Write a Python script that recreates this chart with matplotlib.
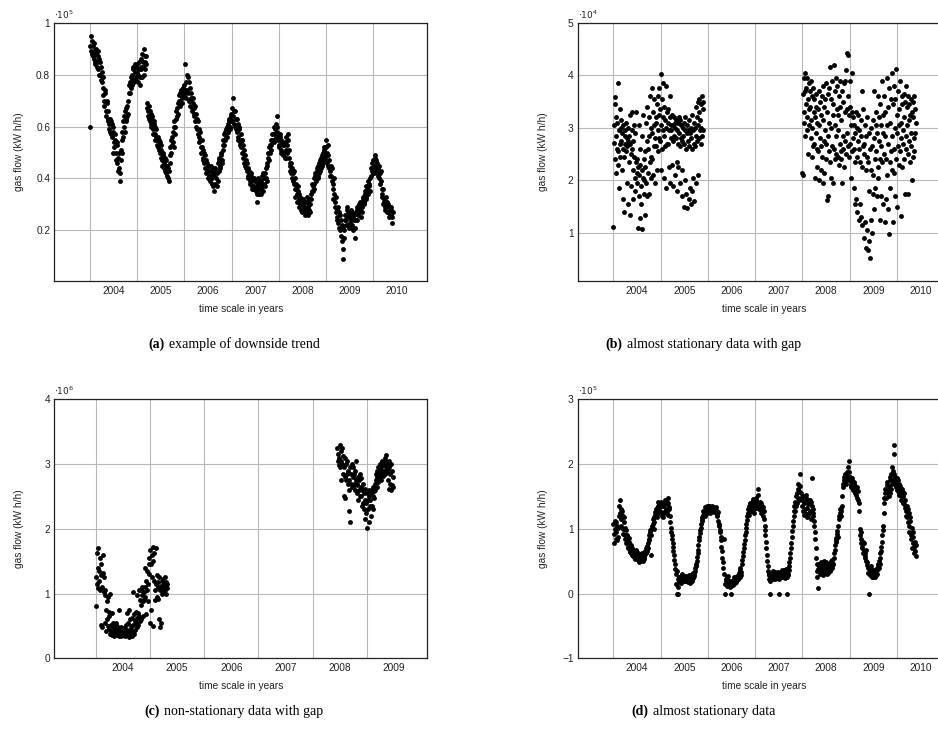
import matplotlib.pyplot as plt
from matplotlib.offsetbox import TextArea, HPacker, AnchoredOffsetbox
import numpy as np
import pandas as pd

plt.rcParams['font.family'] = 'Liberation Sans'

# (a) weekly gas flow, readings on Thursdays from 2004-01-01, in 1e5 kWh/h
flow_a = [
    # 2004
    0.60, 0.95, 0.88, 0.91, 0.86, 0.89, 0.84, 0.90, 0.83, 0.87, 0.80, 0.85, 0.78,
    0.81, 0.75, 0.72, 0.68, 0.74, 0.64, 0.69, 0.62, 0.59, 0.63, 0.57, 0.61, 0.50,
    0.58, 0.52, 0.55, 0.47, 0.53, 0.43, 0.50, 0.39, 0.47, 0.55, 0.58, 0.62, 0.60,
    0.66, 0.63, 0.68, 0.65, 0.73, 0.77, 0.75, 0.80, 0.76, 0.82, 0.78, 0.84, 0.79,
    # 2005
    0.81, 0.77, 0.85, 0.79, 0.86, 0.82, 0.88, 0.83, 0.90, 0.85, 0.87, 0.67, 0.64,
    0.68, 0.62, 0.65, 0.60, 0.64, 0.57, 0.62, 0.55, 0.59, 0.53, 0.56, 0.51, 0.54,
    0.48, 0.51, 0.45, 0.49, 0.46, 0.43, 0.47, 0.41, 0.44, 0.39, 0.46, 0.52, 0.50,
    0.56, 0.54, 0.60, 0.57, 0.63, 0.67, 0.65, 0.70, 0.73, 0.68, 0.74, 0.71, 0.75,
    # 2006
    0.72, 0.84, 0.77, 0.74, 0.79, 0.70, 0.75, 0.68, 0.71, 0.66, 0.69, 0.64, 0.68,
    0.60, 0.63, 0.57, 0.59, 0.54, 0.55, 0.50, 0.52, 0.47, 0.50, 0.44, 0.47, 0.43,
    0.45, 0.41, 0.43, 0.39, 0.45, 0.38, 0.42, 0.35, 0.44, 0.40, 0.37, 0.46, 0.43,
    0.48, 0.45, 0.50, 0.46, 0.53, 0.57, 0.55, 0.59, 0.56, 0.61, 0.58, 0.63, 0.60,
    # 2007
    0.65, 0.62, 0.71, 0.66, 0.60, 0.63, 0.58, 0.61, 0.55, 0.59, 0.53, 0.52, 0.55,
    0.48, 0.51, 0.45, 0.47, 0.43, 0.44, 0.40, 0.42, 0.38, 0.41, 0.36, 0.40, 0.37,
    0.39, 0.35, 0.37, 0.31, 0.40, 0.34, 0.38, 0.36, 0.41, 0.35, 0.40, 0.37, 0.44,
    0.39, 0.46, 0.50, 0.47, 0.53, 0.51, 0.55, 0.57, 0.54, 0.59, 0.56, 0.64, 0.60,
    # 2008
    0.55, 0.52, 0.57, 0.50, 0.54, 0.49, 0.53, 0.48, 0.51, 0.56, 0.50, 0.57, 0.48,
    0.46, 0.42, 0.44, 0.39, 0.43, 0.36, 0.33, 0.38, 0.31, 0.35, 0.29, 0.33, 0.30,
    0.27, 0.32, 0.29, 0.26, 0.31, 0.28, 0.33, 0.26, 0.30, 0.27, 0.32, 0.35, 0.37,
    0.40, 0.36, 0.42, 0.39, 0.44, 0.41, 0.46, 0.43, 0.48, 0.45, 0.50, 0.47, 0.52,
    # 2009
    0.48, 0.55, 0.46, 0.49, 0.44, 0.41, 0.45, 0.39, 0.36, 0.32, 0.34, 0.29, 0.27,
    0.24, 0.29, 0.21, 0.26, 0.18, 0.22, 0.13, 0.09, 0.20, 0.26, 0.24, 0.28, 0.22,
    0.26, 0.23, 0.28, 0.22, 0.25, 0.20, 0.26, 0.17, 0.24, 0.28, 0.26, 0.30, 0.28,
    0.25, 0.31, 0.29, 0.33, 0.31, 0.35, 0.33, 0.36, 0.34, 0.38, 0.35, 0.41, 0.43,
    # 2010
    0.44, 0.47, 0.42, 0.49, 0.44, 0.46, 0.41, 0.45, 0.38, 0.43, 0.36, 0.33, 0.30,
    0.31, 0.28, 0.33, 0.27, 0.30, 0.25, 0.29, 0.26, 0.28, 0.23,
]
# (a) second weekly reading, Sundays from 2004-01-04
flow_a_sun = [
    # 2004
    0.91, 0.89, 0.93, 0.87, 0.92, 0.85, 0.88, 0.85, 0.89, 0.82, 0.86, 0.80, 0.83,
    0.77, 0.79, 0.70, 0.73, 0.66, 0.70, 0.63, 0.66, 0.61, 0.58, 0.62, 0.56, 0.60,
    0.54, 0.57, 0.50, 0.54, 0.46, 0.48, 0.44, 0.42, 0.51, 0.50, 0.56, 0.64, 0.58,
    0.62, 0.67, 0.64, 0.70, 0.76, 0.73, 0.79, 0.78, 0.83, 0.77, 0.81, 0.78, 0.83,
    # 2005
    0.84, 0.80, 0.82, 0.76, 0.83, 0.79, 0.85, 0.80, 0.87, 0.82, 0.84, 0.69, 0.66,
    0.63, 0.66, 0.61, 0.63, 0.59, 0.61, 0.57, 0.60, 0.56, 0.55, 0.52, 0.55, 0.50,
    0.53, 0.47, 0.50, 0.44, 0.48, 0.45, 0.42, 0.45, 0.40, 0.43, 0.49, 0.55, 0.53,
    0.58, 0.52, 0.62, 0.60, 0.66, 0.64, 0.69, 0.72, 0.70, 0.72, 0.69, 0.75, 0.73,
    # 2006
    0.76, 0.74, 0.71, 0.80, 0.73, 0.77, 0.70, 0.73, 0.67, 0.71, 0.65, 0.67, 0.62,
    0.65, 0.59, 0.62, 0.56, 0.58, 0.52, 0.55, 0.48, 0.51, 0.46, 0.49, 0.42, 0.46,
    0.40, 0.45, 0.41, 0.43, 0.40, 0.44, 0.37, 0.41, 0.38, 0.43, 0.42, 0.39, 0.47,
    0.44, 0.49, 0.47, 0.51, 0.55, 0.53, 0.58, 0.56, 0.60, 0.58, 0.62, 0.59, 0.64,
    # 2007
    0.62, 0.67, 0.64, 0.61, 0.66, 0.59, 0.63, 0.56, 0.60, 0.54, 0.57, 0.55, 0.50,
    0.53, 0.46, 0.49, 0.44, 0.46, 0.41, 0.43, 0.39, 0.42, 0.37, 0.39, 0.36, 0.40,
    0.36, 0.39, 0.34, 0.38, 0.36, 0.39, 0.34, 0.39, 0.37, 0.42, 0.38, 0.42, 0.40,
    0.45, 0.48, 0.52, 0.50, 0.55, 0.53, 0.57, 0.55, 0.60, 0.57, 0.61, 0.58, 0.56,
    # 2008
    0.53, 0.56, 0.51, 0.55, 0.50, 0.53, 0.50, 0.54, 0.48, 0.53, 0.55, 0.51, 0.45,
    0.43, 0.46, 0.40, 0.42, 0.38, 0.40, 0.36, 0.34, 0.37, 0.32, 0.34, 0.30, 0.28,
    0.31, 0.28, 0.31, 0.29, 0.27, 0.31, 0.29, 0.32, 0.28, 0.30, 0.34, 0.38, 0.35,
    0.38, 0.41, 0.40, 0.43, 0.40, 0.45, 0.42, 0.47, 0.44, 0.49, 0.46, 0.51, 0.49,
    # 2009
    0.52, 0.50, 0.53, 0.45, 0.47, 0.43, 0.41, 0.44, 0.38, 0.40, 0.31, 0.33, 0.25,
    0.28, 0.23, 0.27, 0.20, 0.24, 0.16, 0.21, 0.17, 0.24, 0.22, 0.29, 0.25, 0.27,
    0.21, 0.25, 0.24, 0.27, 0.21, 0.24, 0.21, 0.27, 0.29, 0.24, 0.29, 0.27, 0.31,
    0.29, 0.27, 0.32, 0.30, 0.34, 0.32, 0.37, 0.35, 0.39, 0.37, 0.40, 0.44, 0.46,
    # 2010
    0.42, 0.45, 0.48, 0.43, 0.47, 0.42, 0.44, 0.40, 0.42, 0.39, 0.34, 0.36, 0.32,
    0.29, 0.31, 0.29, 0.31, 0.27, 0.29, 0.26, 0.29, 0.25, 0.27,
]

# (b) gas flow every third day, two recording periods, in 1e4 kWh/h
flow_b_2004 = [
    1.12, 3.05, 2.72, 3.45, 2.40, 3.58, 2.85, 2.15, 3.20, 2.60,
    3.10, 2.55, 3.85, 2.30, 2.95, 1.85, 3.35, 2.70, 2.45, 3.00,
    2.75, 3.15, 2.20, 2.90, 1.65, 2.60, 3.05, 2.45, 1.40, 2.85,
    2.70, 2.95, 2.55, 3.10, 1.95, 2.80, 2.65, 1.55, 2.75, 3.00,
    2.85, 2.35, 3.25, 1.35, 2.70, 2.50, 1.90, 2.95, 2.60, 3.30,
    2.20, 2.75, 1.65, 2.45, 3.05, 2.05, 2.90, 1.80, 2.35, 3.30,
    2.15, 1.95, 2.40, 1.10, 2.25, 3.05, 1.70, 2.10, 2.60, 1.28,
    2.30, 1.90, 1.55, 2.20, 2.85, 1.08, 2.05, 3.25, 1.75, 2.40,
    2.00, 2.55, 1.35, 2.25, 3.10, 1.95, 2.75, 1.70, 3.40, 2.15,
    2.60, 3.20, 1.75, 2.85, 2.35, 3.60, 2.05, 3.00, 2.45, 3.75,
    2.90, 2.40, 3.30, 2.10, 3.05, 2.65, 3.55, 1.95, 2.80, 3.20,
    3.10, 2.65, 3.45, 2.20, 2.95, 3.60, 2.55, 3.25, 2.80, 3.75,
    3.35, 2.75, 4.02, 2.20, 3.05, 3.55, 2.60, 3.85, 2.95, 3.20,
    2.85, 3.40, 2.05, 3.15, 2.65, 3.80, 1.85, 3.00, 3.30, 2.70,
    3.10, 2.70, 3.35, 2.25, 2.95, 3.60, 1.95, 3.20, 2.80, 3.05,
    2.95, 3.25, 2.30, 3.05, 2.75, 1.90, 3.20, 2.85, 3.10, 2.10,
    3.00, 2.80, 3.15, 2.35, 2.95, 1.80, 3.10, 2.70, 2.25, 3.20,
    2.90, 2.65, 3.15, 1.95, 2.80, 3.05, 2.20, 2.75, 1.70, 3.00,
    2.85, 3.10, 1.50, 2.70, 2.95, 2.00, 3.20, 2.60, 1.75, 2.90,
    3.05, 1.48, 2.75, 2.95, 1.65, 3.15, 2.65, 1.85, 2.90, 3.00,
    2.80, 1.55, 3.25, 2.60, 1.80, 2.95, 2.05, 3.10, 1.60, 2.70,
    3.00, 2.65, 3.40, 1.95, 2.85, 3.20, 2.75, 3.50, 2.10, 3.05,
    3.30, 2.80, 3.55, 2.95, 3.15, 2.70, 3.45, 3.00, 3.60, 2.85,
    3.35, 2.95, 3.50,
]
flow_b_2008 = [
    2.15, 2.10, 3.65, 3.30, 3.95, 3.10, 3.70, 2.85, 4.05, 3.45,
    3.75, 3.20, 3.95, 2.95, 3.55, 2.50, 3.85, 3.35, 3.05, 3.70,
    3.40, 2.80, 3.90, 3.15, 2.45, 3.60, 3.00, 3.75, 2.65, 3.30,
    3.55, 2.70, 3.20, 2.05, 3.65, 2.90, 3.40, 2.25, 3.10, 2.60,
    3.35, 2.55, 3.70, 2.00, 3.05, 2.80, 3.50, 2.20, 3.25, 2.65,
    3.60, 2.45, 3.15, 1.95, 3.80, 2.75, 3.40, 2.15, 2.95, 3.55,
    2.70, 3.85, 2.40, 1.62, 3.30, 2.85, 1.70, 3.65, 2.55, 3.10,
    3.75, 2.35, 4.15, 3.00, 2.05, 3.55, 2.65, 3.90, 1.95, 3.25,
    3.45, 2.60, 4.20, 3.05, 2.40, 3.70, 2.85, 3.95, 2.50, 3.35,
    3.80, 2.45, 3.25, 2.95, 3.60, 2.30, 3.90, 2.70, 3.40, 2.55,
    3.15, 2.40, 3.70, 1.95, 2.85, 3.50, 2.60, 3.85, 2.25, 3.30,
    3.90, 2.75, 4.10, 2.50, 4.42, 3.35, 2.90, 4.38, 3.60, 2.65,
    3.25, 2.45, 3.90, 2.70, 3.40, 2.05, 3.05, 4.05, 2.55, 3.30,
    2.80, 3.20, 1.85, 2.60, 3.05, 1.55, 2.90, 2.35, 3.30, 1.65,
    2.45, 3.00, 1.40, 2.75, 3.25, 1.25, 2.60, 2.95, 1.55, 2.35,
    2.85, 1.30, 3.15, 2.25, 3.70, 1.15, 2.65, 3.35, 0.90, 2.50,
    2.70, 1.20, 3.05, 2.20, 0.72, 2.85, 2.45, 1.05, 3.20, 0.68,
    2.35, 0.85, 2.90, 1.80, 2.60, 0.53, 3.00, 1.25, 2.20, 1.00,
    2.65, 1.75, 3.15, 2.10, 3.70, 1.45, 2.80, 2.40, 1.85, 3.05,
    2.55, 3.30, 1.70, 2.90, 2.25, 3.60, 2.05, 2.75, 3.20, 2.40,
    3.45, 1.25, 2.65, 3.05, 1.70, 3.90, 2.35, 2.90, 1.55, 3.25,
    2.50, 3.60, 1.20, 2.85, 3.30, 1.65, 2.40, 3.95, 2.10, 3.05,
    3.40, 1.45, 2.70, 3.75, 0.98, 2.35, 3.10, 1.85, 3.55, 2.55,
    2.20, 4.05, 2.85, 1.20, 3.45, 2.60, 3.80, 2.15, 3.00, 1.70,
    3.55, 2.40, 4.12, 2.90, 3.25, 1.50, 3.70, 2.65, 3.05, 2.30,
    3.35, 2.55, 3.90, 1.32, 3.10, 2.80, 3.60, 2.25, 3.45, 2.70,
    2.95, 3.65, 2.40, 3.20, 1.75, 3.50, 2.60, 3.80, 2.85, 3.05,
    3.40, 2.50, 3.60, 1.75, 3.15, 2.75, 3.45, 2.35, 3.25, 2.90,
    3.55, 2.65, 3.30, 2.00, 3.50, 2.45, 3.20, 2.80, 3.60, 2.55,
    3.35, 2.90, 3.10,
]

# (c) gas flow every third day, two recording periods, in 1e6 kWh/h
flow_c_2004 = [
    0.81, 1.25, 1.15, 1.62, 1.08, 1.40, 1.70, 1.20, 1.35, 1.05,
    1.55, 1.28, 0.52, 1.45, 1.10, 0.48, 1.32, 1.60, 1.02, 1.25,
    0.98, 0.55, 1.05, 0.75, 0.42, 0.88, 0.60, 0.95, 0.50, 0.72,
    0.45, 0.65, 0.38, 1.00, 0.52, 0.42, 0.70, 0.36, 0.55, 0.48,
    0.40, 0.52, 0.35, 0.46, 0.38, 0.55, 0.42, 0.36, 0.50, 0.40,
    0.38, 0.45, 0.34, 0.75, 0.40, 0.36, 0.48, 0.42, 0.35, 0.44,
    0.40, 0.36, 0.47, 0.38, 0.42, 0.35, 0.45, 0.39, 0.52, 0.37,
    0.44, 0.70, 0.36, 0.55, 0.33, 0.75, 0.42, 0.60, 0.38, 0.50,
    0.45, 0.62, 0.35, 1.03, 0.52, 0.40, 0.68, 0.38, 0.58, 0.44,
    0.55, 0.72, 0.48, 0.98, 0.62, 0.70, 0.52, 1.05, 0.65, 0.58,
    0.90, 1.05, 0.82, 0.60, 0.98, 1.10, 0.88, 0.65, 1.02, 0.92,
    1.10, 0.95, 1.40, 0.68, 1.20, 1.05, 1.35, 0.88, 1.15, 1.45,
    1.55, 1.30, 0.55, 1.68, 1.45, 0.75, 1.60, 1.25, 1.72, 0.50,
    1.50, 1.62, 1.20, 1.05, 0.90, 1.70, 1.15, 0.95, 1.28, 1.10,
    1.18, 0.92, 0.60, 1.25, 1.05, 0.48, 1.12, 0.55, 1.20, 1.00,
    1.10, 1.22, 1.02, 1.15, 1.08, 1.25, 1.05, 1.18, 1.12, 1.00,
    1.15, 1.08,
]
flow_c_2008 = [
    3.25, 3.05, 3.15, 2.98,
    3.10, 3.30, 2.95, 3.20, 3.05, 2.75, 3.25, 3.00, 3.12, 2.85,
    2.95, 2.50, 3.10, 2.80, 2.47, 3.00, 2.75, 3.05, 2.85, 2.70,
    2.90, 2.27, 2.75, 2.60, 2.11, 2.95, 2.70, 2.85, 2.65, 3.00,
    2.80, 2.65, 2.95, 2.70, 2.85, 2.60, 2.90, 2.75, 3.05, 2.68,
    2.70, 2.55, 2.80, 2.45, 2.75, 2.60, 2.85, 2.50, 2.65, 2.78,
    2.50, 2.35, 2.60, 2.40, 2.70, 2.30, 2.55, 2.45, 2.15, 2.62,
    2.40, 2.25, 2.55, 2.02, 2.45, 2.30, 2.60, 2.10, 2.50, 2.35,
    2.45, 2.55, 2.20, 2.60, 2.35, 2.50, 2.65, 2.30, 2.58, 2.48,
    2.70, 2.60, 2.85, 2.75, 2.90, 2.65, 2.80, 2.95, 2.72, 2.85,
    2.90, 2.80, 3.00, 2.85, 2.95, 2.75, 3.05, 2.90, 2.82, 2.98,
    3.00, 2.90, 3.10, 2.85, 3.05, 2.95, 3.14, 2.88, 3.02, 2.92,
    2.75, 2.95, 2.62, 3.05, 2.70, 2.85, 2.60, 3.00, 2.68, 2.90,
    2.80, 2.65,
]

# (d) weekly gas flow, Thursdays from 2004-01-01, in 1e5 kWh/h
flow_d = [
    # 2004
    1.08, 0.78, 1.12, 0.95, 1.05, 0.88, 1.20, 1.44, 1.30, 1.05, 1.22, 0.92, 1.10,
    0.85, 0.98, 0.80, 0.72, 0.86, 0.66, 0.75, 0.62, 0.70, 0.58, 0.64, 0.55, 0.68,
    0.57, 0.62, 0.52, 0.60, 0.50, 0.55, 0.63, 0.52, 0.58, 0.61, 0.70, 0.66, 0.78,
    0.90, 0.85, 0.98, 0.60, 1.05, 1.15, 1.10, 1.22, 1.30, 1.18, 1.35, 1.25, 1.40,
    # 2005
    1.28, 1.42, 1.20, 1.36, 1.25, 1.45, 1.30, 1.38, 1.22, 1.48, 1.33, 1.10, 0.95,
    0.85, 0.72, 0.60, 0.45, 0.30, 0.00, 0.22, 0.00, 0.26, 0.18, 0.22, 0.28, 0.19,
    0.24, 0.20, 0.27, 0.21, 0.25, 0.18, 0.23, 0.26, 0.21, 0.28, 0.24, 0.30, 0.35,
    0.42, 0.50, 0.62, 0.75, 0.88, 0.98, 1.08, 1.15, 1.22, 1.26, 1.20, 1.30, 1.24,
    # 2006
    1.32, 1.27, 1.35, 1.25, 1.31, 1.28, 1.34, 1.26, 1.30, 1.24, 1.28, 1.20, 1.12,
    1.05, 0.95, 0.82, 0.65, 0.48, 0.30, 0.00, 0.20, 0.12, 0.25, 0.15, 0.20, 0.10,
    0.00, 0.18, 0.14, 0.22, 0.16, 0.24, 0.19, 0.26, 0.22, 0.30, 0.36, 0.28, 0.45,
    0.58, 0.70, 0.82, 0.95, 1.08, 1.20, 1.30, 1.22, 1.38, 1.28, 1.42, 1.33, 1.25,
    # 2007
    1.40, 1.32, 1.48, 1.36, 1.62, 1.30, 1.42, 1.25, 1.35, 1.20, 1.28, 1.05, 0.90,
    0.70, 0.50, 0.35, 0.28, 0.00, 0.25, 0.32, 0.22, 0.30, 0.26, 0.34, 0.24, 0.30,
    0.27, 0.00, 0.32, 0.25, 0.36, 0.28, 0.33, 0.24, 0.31, 0.38, 0.00, 0.30, 0.42,
    0.55, 0.70, 0.88, 1.05, 1.20, 1.35, 1.28, 1.50, 1.40, 1.62, 1.45, 1.84, 1.55,
    # 2008
    1.35, 1.50, 1.22, 1.42, 1.30, 1.48, 1.18, 1.38, 1.25, 1.45, 1.15, 1.78, 1.30,
    1.20, 1.05, 0.85, 0.55, 0.35, 0.09, 0.42, 0.30, 0.48, 0.36, 0.45, 0.32, 0.50,
    0.38, 0.44, 0.30, 0.46, 0.40, 0.35, 0.48, 0.42, 0.52, 0.45, 0.62, 0.75, 0.82,
    0.92, 0.88, 1.15, 1.25, 1.32, 1.20, 1.36, 1.65, 1.75, 1.82, 1.70, 1.88, 1.78,
    # 2009
    2.05, 1.80, 1.72, 1.68, 1.78, 1.60, 1.70, 1.55, 1.62, 1.48, 1.58, 1.40, 1.00,
    0.85, 0.95, 0.72, 0.62, 0.78, 0.55, 0.68, 0.48, 0.40, 0.00, 0.35, 0.28, 0.42,
    0.30, 0.25, 0.32, 0.26, 0.38, 0.30, 0.42, 0.50, 0.45, 0.62, 0.72, 0.90, 1.05,
    1.40, 1.55, 1.48, 1.68, 1.60, 1.50, 1.75, 1.55, 1.85, 1.70, 1.90, 2.30, 1.80,
    # 2010
    1.65, 1.78, 1.58, 1.70, 1.52, 1.62, 1.45, 1.58, 1.40, 1.55, 1.32, 1.20, 1.35,
    1.10, 1.25, 0.95, 1.12, 0.85, 0.70, 0.95, 0.62, 0.80, 0.58,
]
# (d) second weekly reading, Sundays from 2004-01-04
flow_d_sun = [
    # 2004
    0.92, 1.00, 0.85, 1.10, 0.82, 1.02, 1.35, 1.25, 1.15, 1.28, 1.00, 1.18, 0.90,
    1.02, 0.78, 0.90, 0.70, 0.80, 0.64, 0.72, 0.60, 0.66, 0.56, 0.62, 0.53, 0.65,
    0.54, 0.58, 0.49, 0.57, 0.53, 0.60, 0.50, 0.56, 0.54, 0.66, 0.62, 0.74, 0.70,
    0.82, 0.95, 0.90, 1.02, 1.08, 1.00, 1.18, 1.26, 1.20, 1.32, 1.42, 1.28, 1.36,
    # 2005
    1.35, 1.24, 1.40, 1.18, 1.38, 1.28, 1.42, 1.26, 1.40, 1.30, 1.20, 1.02, 0.90,
    0.78, 0.66, 0.52, 0.38, 0.15, 0.35, 0.10, 0.20, 0.25, 0.17, 0.24, 0.30, 0.21,
    0.27, 0.23, 0.19, 0.26, 0.20, 0.29, 0.17, 0.25, 0.30, 0.20, 0.32, 0.27, 0.40,
    0.46, 0.56, 0.68, 0.82, 0.93, 1.02, 1.12, 1.18, 1.28, 1.23, 1.33, 1.28, 1.35,
    # 2006
    1.28, 1.36, 1.29, 1.33, 1.26, 1.35, 1.29, 1.32, 1.27, 1.33, 1.22, 1.26, 1.08,
    0.98, 0.88, 0.72, 0.55, 0.40, 0.85, 0.15, 0.22, 0.18, 0.27, 0.13, 0.19, 0.16,
    0.12, 0.20, 0.17, 0.25, 0.21, 0.18, 0.27, 0.23, 0.32, 0.26, 0.40, 0.34, 0.52,
    0.64, 0.76, 0.90, 1.02, 1.14, 1.25, 1.35, 1.30, 1.40, 1.32, 1.38, 1.46, 1.30,
    # 2007
    1.35, 1.45, 1.38, 1.52, 1.40, 1.38, 1.30, 1.40, 1.26, 1.33, 1.15, 0.98, 0.80,
    0.60, 0.42, 0.30, 0.22, 0.20, 0.29, 0.26, 0.35, 0.28, 0.23, 0.31, 0.26, 0.34,
    0.22, 0.29, 0.27, 0.33, 0.25, 0.30, 0.36, 0.27, 0.34, 0.25, 0.28, 0.36, 0.48,
    0.62, 0.78, 0.96, 1.12, 1.28, 1.42, 1.36, 1.55, 1.48, 1.70, 1.58, 1.66, 1.48,
    # 2008
    1.45, 1.28, 1.40, 1.25, 1.52, 1.32, 1.44, 1.22, 1.40, 1.28, 1.42, 1.36, 1.25,
    1.12, 0.95, 0.70, 0.45, 0.25, 0.38, 0.45, 0.33, 0.42, 0.38, 0.28, 0.44, 0.34,
    0.48, 0.36, 0.42, 0.32, 0.44, 0.38, 0.50, 0.40, 0.46, 0.55, 0.68, 0.80, 0.86,
    0.96, 1.05, 1.20, 1.30, 1.28, 1.50, 1.70, 1.80, 1.76, 1.85, 1.74, 1.82, 1.95,
    # 2009
    1.88, 1.75, 1.65, 1.74, 1.62, 1.72, 1.58, 1.66, 1.52, 1.64, 1.45, 1.27, 0.90,
    0.78, 0.70, 0.80, 0.66, 0.58, 0.62, 0.50, 0.44, 0.32, 0.40, 0.33, 0.37, 0.25,
    0.36, 0.30, 0.27, 0.34, 0.28, 0.36, 0.46, 0.40, 0.55, 0.66, 0.80, 0.98, 1.25,
    1.48, 1.62, 1.58, 1.72, 1.56, 1.66, 1.80, 1.62, 1.95, 1.76, 2.15, 1.85, 1.70,
    # 2010
    1.72, 1.60, 1.75, 1.56, 1.66, 1.50, 1.62, 1.42, 1.50, 1.38, 1.45, 1.28, 1.18,
    1.30, 1.05, 1.18, 0.90, 1.02, 0.78, 0.88, 0.72, 0.66, 0.75,
]

years_long = [2004, 2005, 2006, 2007, 2008, 2009, 2010]
years_short = [2004, 2005, 2006, 2007, 2008, 2009]


def to_years(start, values, freq):
    # sample dates -> decimal years, so that grid lines sit on January 1st
    d = pd.date_range(start, periods=len(values), freq=freq)
    days = np.where(d.is_leap_year, 366, 365)
    return np.asarray(d.year) + (np.asarray(d.dayofyear) - 1) / days


fig = plt.figure(figsize=(9.38, 7.33), dpi=100)


def panel(rect, series, years, xlim, ylim, yticks, ylabels, exponent):
    ax = fig.add_axes(rect)
    for x, y in series:
        ax.plot(x, y, 'o', color='black', ms=3.5, mew=0, ls='none', zorder=3)
    ax.set_xlim(xlim)
    ax.set_ylim(ylim)
    # grid lines at the year boundaries, labels in the middle of each year
    ax.set_xticks(years)
    ax.set_xticklabels([])
    ax.set_xticks([y + 0.5 for y in years], minor=True)
    ax.set_xticklabels([str(y) for y in years], minor=True)
    ax.set_yticks(yticks)
    ax.set_yticklabels(ylabels)
    ax.grid(True, which='major', color='#b8b8b8', lw=0.8)
    ax.set_axisbelow(True)
    ax.tick_params(which='both', length=0, labelsize=7.3, colors='#222222')
    ax.tick_params(axis='x', which='minor', pad=3.5)
    ax.tick_params(axis='y', pad=3)
    for s in ax.spines.values():
        s.set_linewidth(0.9)
        s.set_color('#222222')
    ax.set_xlabel('time scale in years', fontsize=7.3, color='#222222')
    ax.xaxis.set_label_coords(0.5, -0.088)
    ax.set_ylabel('gas flow (kW h/h)', fontsize=7.3, color='#222222')
    ax.yaxis.set_label_coords(-0.08, 0.5)
    ax.text(0.0, 1.008, r'$\cdot10^{%d}$' % exponent, transform=ax.transAxes,
            fontsize=6.5, va='bottom', ha='left', color='#222222')
    return ax


def caption(x, y, tag, text):
    parts = HPacker(children=[
        TextArea('(%s)' % tag, textprops=dict(family='Liberation Serif', size=10, weight='bold')),
        TextArea(text, textprops=dict(family='Liberation Serif', size=10)),
    ], align='baseline', pad=0, sep=3)
    box = AnchoredOffsetbox(loc='center', child=parts, pad=0, borderpad=0, frameon=False,
                            bbox_to_anchor=(x, y), bbox_transform=fig.transFigure)
    fig.add_artist(box)


xlim_long = (2003.246, 2011.14)
xlim_short = (2003.236, 2010.118)
w = 0.3977

panel([0.0579, 0.6166, w, 0.3524],
      [(to_years('2004-01-01', flow_a, '7D'), flow_a),
       (to_years('2004-01-04', flow_a_sun, '7D'), flow_a_sun)],
      years_long, xlim_long, (0.005, 1.0),
      [0.2, 0.4, 0.6, 0.8, 1.0], ['0.2', '0.4', '0.6', '0.8', '1'], 5)

panel([0.6159, 0.6166, w, 0.3524],
      [(to_years('2004-01-01', flow_b_2004, '3D'), flow_b_2004),
       (to_years('2008-01-01', flow_b_2008, '3D'), flow_b_2008)],
      years_long, xlim_long, (0.085, 5.0),
      [1, 2, 3, 4, 5], ['1', '2', '3', '4', '5'], 4)

panel([0.0579, 0.1019, w, 0.3533],
      [(to_years('2004-01-01', flow_c_2004, '3D'), flow_c_2004),
       (to_years('2008-06-17', flow_c_2008, '3D'), flow_c_2008)],
      years_short, xlim_short, (0.0, 4.0),
      [0, 1, 2, 3, 4], ['0', '1', '2', '3', '4'], 6)

panel([0.6159, 0.1019, w, 0.3533],
      [(to_years('2004-01-01', flow_d, '7D'), flow_d),
       (to_years('2004-01-04', flow_d_sun, '7D'), flow_d_sun)],
      years_long, xlim_long, (-1.0, 3.0),
      [-1, 0, 1, 2, 3], ['\u22121', '0', '1', '2', '3'], 5)

caption(0.2495, 0.5307, 'a', 'example of downside trend')
caption(0.750, 0.5307, 'b', 'almost stationary data with gap')
caption(0.2495, 0.0300, 'c', 'non-stationary data with gap')
caption(0.750, 0.0300, 'd', 'almost stationary data')

fig.savefig('out.png', dpi=100)
